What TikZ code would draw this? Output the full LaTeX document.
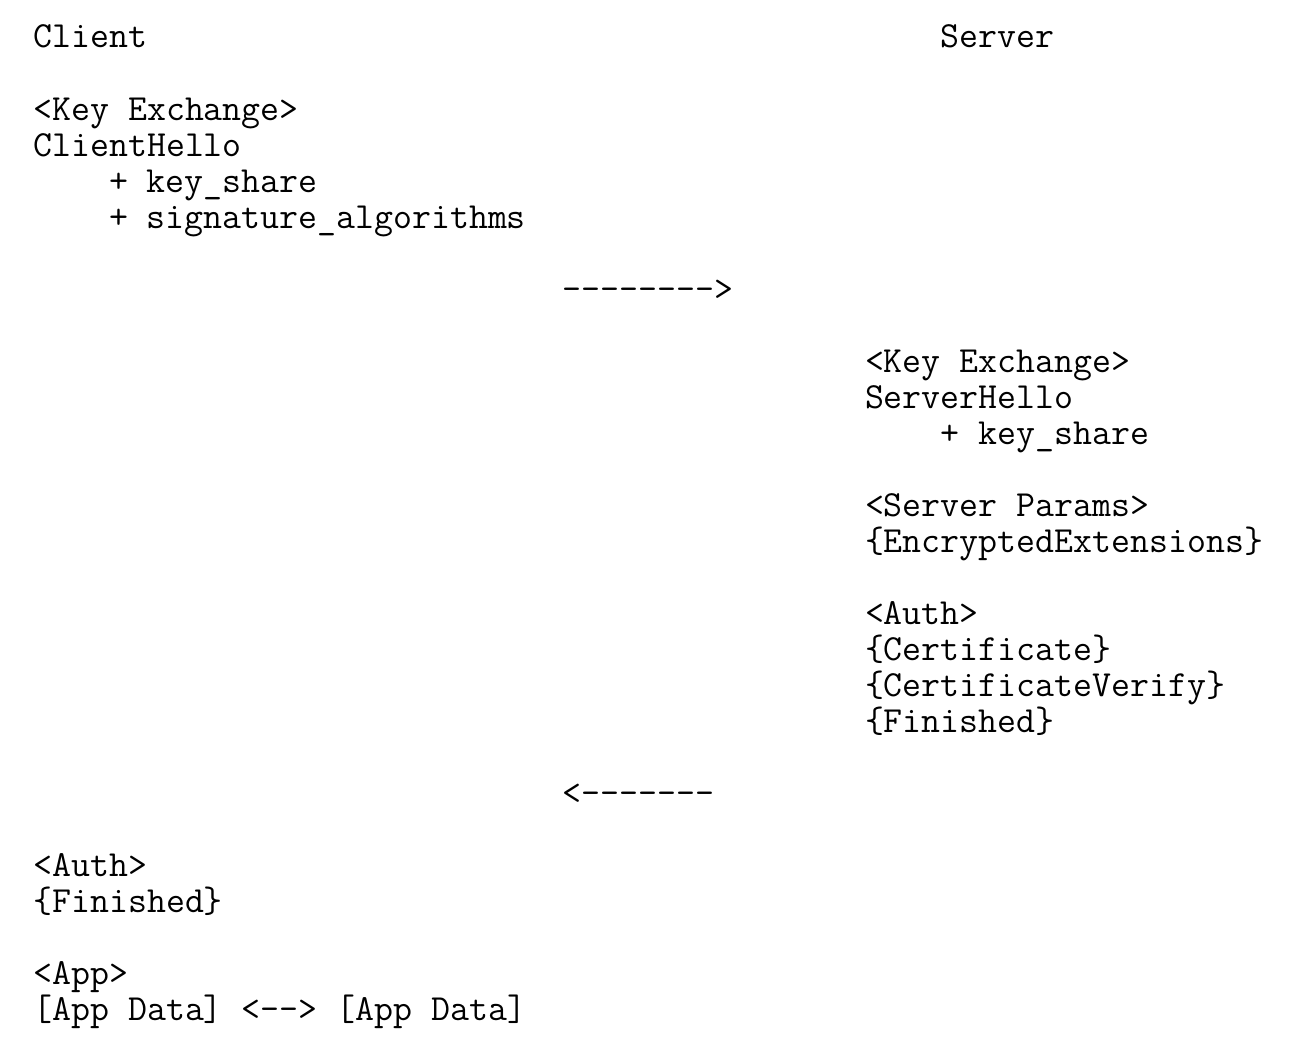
\documentclass[tikz,border=0pt]{standalone}
\usepackage{tikz}
\tikzset{msg/.style={anchor=base west,inner sep=0pt,font=\ttfamily\fontsize{18.4}{18.4}\selectfont}}
\newcommand{\charw}{18.9}
\newcommand{\lineh}{36}
\newcommand{\msgline}[4]{
  \node[msg] (#1) at ({33+\charw*#2},{48+\lineh*#3}) {#4};% column, row
}
\begin{document}
\begin{tikzpicture}[x=0.5pt,y=-0.5pt]
    \useasboundingbox (0,0) rectangle (1310,1054);

    % the two ends
    \msgline{client}{0}{0}{Client}
    \msgline{server}{48}{0}{Server}

    % client to server
    \msgline{ckex}{0}{2}{<Key Exchange>}
    \msgline{chello}{0}{3}{ClientHello}
    \msgline{ckshare}{4}{4}{+ key\_share}
    \msgline{csigalg}{4}{5}{+ signature\_algorithms}
    \msgline{toserver}{28}{7}{-------->}

    % server to client
    \msgline{skex}{44}{9}{<Key Exchange>}
    \msgline{shello}{44}{10}{ServerHello}
    \msgline{skshare}{48}{11}{+ key\_share}
    \msgline{sparams}{44}{13}{<Server Params>}
    \msgline{sencext}{44}{14}{\{EncryptedExtensions\}}
    \msgline{sauth}{44}{16}{<Auth>}
    \msgline{scert}{44}{17}{\{Certificate\}}
    \msgline{scertver}{44}{18}{\{CertificateVerify\}}
    \msgline{sfin}{44}{19}{\{Finished\}}
    \msgline{toclient}{28}{21}{<-------}

    % client finishes
    \msgline{cauth}{0}{23}{<Auth>}
    \msgline{cfin}{0}{24}{\{Finished\}}
    \msgline{capp}{0}{26}{<App>}
    \msgline{appdata}{0}{27}{[App Data] <--> [App Data]}
  \end{tikzpicture}
\end{document}
